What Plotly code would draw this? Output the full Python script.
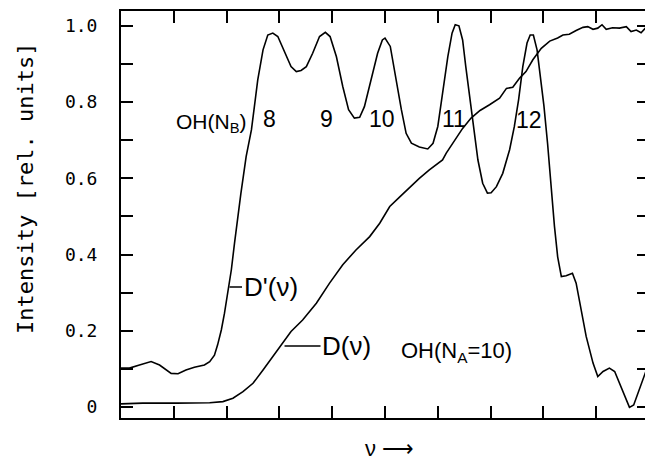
import plotly.graph_objects as go

# D'(nu) - derivative spectrum with rotational peaks
dp_x = [0.00, 0.16, 0.35, 0.57, 0.73, 0.95, 1.08, 1.23, 1.39, 1.58,
        1.68, 1.77, 1.83, 1.90, 1.96, 2.02, 2.09, 2.15, 2.18, 2.27,
        2.37, 2.47, 2.59, 2.69, 2.78, 2.875, 2.97, 3.10, 3.22, 3.32,
        3.41, 3.51, 3.63, 3.76, 3.87, 3.96, 4.08, 4.20, 4.31, 4.42,
        4.52, 4.61, 4.74, 4.86, 4.95, 5.00, 5.10, 5.21, 5.31, 5.40,
        5.50, 5.65, 5.81, 5.91, 6.00, 6.09, 6.19, 6.27, 6.33, 6.40,
        6.47, 6.53, 6.60, 6.68, 6.76, 6.85, 6.94, 7.01, 7.11, 7.23,
        7.36, 7.45, 7.53, 7.61, 7.69, 7.75, 7.81, 7.88, 7.94, 8.01,
        8.08, 8.14, 8.21, 8.27, 8.34, 8.43, 8.55, 8.62, 8.72, 8.81,
        8.94, 9.03, 9.13, 9.25, 9.35, 9.44, 9.54, 9.63, 9.71, 9.79,
        9.88, 9.95, 10.0]
dp_y = [0.102, 0.102, 0.110, 0.119, 0.110, 0.088, 0.087, 0.097, 0.104, 0.110,
        0.119, 0.136, 0.163, 0.202, 0.246, 0.298, 0.360, 0.430, 0.465, 0.560,
        0.657, 0.727, 0.858, 0.937, 0.976, 0.981, 0.972, 0.933, 0.893, 0.880,
        0.883, 0.893, 0.928, 0.972, 0.983, 0.972, 0.919, 0.841, 0.780, 0.758,
        0.760, 0.788, 0.858, 0.928, 0.963, 0.968, 0.946, 0.858, 0.780, 0.718,
        0.692, 0.682, 0.677, 0.692, 0.736, 0.823, 0.919, 0.981, 1.003, 1.000,
        0.963, 0.893, 0.815, 0.736, 0.648, 0.587, 0.561, 0.562, 0.578, 0.613,
        0.675, 0.736, 0.806, 0.893, 0.955, 0.976, 0.976, 0.937, 0.867, 0.790,
        0.690, 0.578, 0.473, 0.394, 0.342, 0.344, 0.351, 0.325, 0.255, 0.185,
        0.115, 0.080, 0.093, 0.102, 0.093, 0.062, 0.027, -0.001, 0.005, 0.036,
        0.071, 0.097, 0.100]

# D(nu) - integrated signal
d_x = [0.00, 0.41, 1.05, 1.68, 1.93, 2.12, 2.31, 2.50, 2.69, 2.875,
       3.03, 3.22, 3.44, 3.70, 3.95, 4.20, 4.45, 4.71, 4.90, 5.09,
       5.27, 5.46, 5.65, 5.84, 5.97, 6.09, 6.16, 6.32, 6.47, 6.63,
       6.80, 6.98, 7.17, 7.30, 7.42, 7.55, 7.67, 7.80, 7.96, 8.12,
       8.27, 8.37, 8.49, 8.62, 8.75, 8.84, 8.94, 9.03, 9.11, 9.19,
       9.31, 9.44, 9.57, 9.66, 9.76, 9.85, 9.93, 10.0]
d_y = [0.008, 0.010, 0.010, 0.011, 0.014, 0.023, 0.040, 0.062, 0.097, 0.132,
       0.163, 0.198, 0.228, 0.272, 0.325, 0.373, 0.412, 0.447, 0.482, 0.526,
       0.550, 0.575, 0.600, 0.622, 0.635, 0.648, 0.666, 0.700, 0.731, 0.758,
       0.778, 0.793, 0.810, 0.836, 0.839, 0.863, 0.880, 0.911, 0.941, 0.960,
       0.968, 0.976, 0.978, 0.988, 0.996, 0.998, 0.991, 0.994, 1.003, 0.991,
       0.995, 0.994, 0.998, 0.985, 0.989, 0.982, 0.994, 0.998]

y_tick_vals = [0.0, 0.1, 0.2, 0.3, 0.4, 0.5, 0.6, 0.7, 0.8, 0.9, 1.0]
y_tick_text = ["0", " ", "0.2", " ", "0.4", " ", "0.6", " ", "0.8", " ", "1.0"]
x_tick_vals = [0, 1, 2, 3, 4, 5, 6, 7, 8, 9, 10]

peak_labels = ["8", "9", "10", "11", "12"]
peak_label_x = [2.81, 3.89, 4.95, 6.30, 7.72]
peak_label_y = [0.756, 0.756, 0.756, 0.756, 0.753]

LBL_FONT = "Liberation Sans, Arial, sans-serif"
MONO = "DejaVu Sans Mono, monospace"

fig = go.Figure()
fig.add_trace(go.Scatter(x=dp_x, y=dp_y, mode="lines",
                         line=dict(color="black", width=1.6), showlegend=False))
fig.add_trace(go.Scatter(x=d_x, y=d_y, mode="lines",
                         line=dict(color="black", width=1.6), showlegend=False))

annotations = []
for t, x, y in zip(peak_labels, peak_label_x, peak_label_y):
    annotations.append(dict(x=x, y=y, xref="x", yref="y", text=t, showarrow=False,
                            xanchor="center", yanchor="middle",
                            font=dict(family=LBL_FONT, size=23, color="black")))
annotations.append(dict(x=1.01, y=0.745, xref="x", yref="y", xanchor="left",
                        yanchor="middle", text="OH(N<sub>B</sub>)", showarrow=False,
                        font=dict(family=LBL_FONT, size=21, color="black")))
annotations.append(dict(x=6.36, y=0.145, xref="x", yref="y",
                        xanchor="center", yanchor="middle",
                        text="OH(N<sub>A</sub>=10)", showarrow=False,
                        font=dict(family=LBL_FONT, size=22, color="black")))
annotations.append(dict(x=2.055, y=0.315, xref="x", yref="y", text="D'(ν)",
                        showarrow=True, arrowhead=0, arrowwidth=1.5, arrowcolor="black",
                        ax=41, ay=0, standoff=0,
                        font=dict(family=LBL_FONT, size=26, color="black")))
annotations.append(dict(x=3.097, y=0.160, xref="x", yref="y", text="D(ν)",
                        showarrow=True, arrowhead=0, arrowwidth=1.5, arrowcolor="black",
                        ax=62, ay=0, standoff=0,
                        font=dict(family=LBL_FONT, size=26, color="black")))
annotations.append(dict(x=-0.182, y=0.565, xref="paper", yref="paper",
                        xanchor="center", yanchor="middle",
                        text="Intensity [rel. units]", textangle=-90, showarrow=False,
                        font=dict(family=MONO, size=22, color="black")))
annotations.append(dict(x=0.509, y=-0.076, xref="paper", yref="paper",
                        xanchor="center", yanchor="middle",
                        text="ν ⟶", showarrow=False,
                        font=dict(family=LBL_FONT, size=22, color="black")))

# the page body adds an 8px offset; size the figure to fit the 653x461 window
fig.update_layout(
    width=645, height=453,
    margin=dict(l=113, r=4, t=3, b=43, autoexpand=False),
    paper_bgcolor="white", plot_bgcolor="white",
    annotations=annotations,
    showlegend=False,
)
fig.update_xaxes(range=[0, 10], tickvals=x_tick_vals, showticklabels=False,
                 ticks="inside", ticklen=12, tickwidth=1.5, tickcolor="black",
                 showline=True, linecolor="black", linewidth=2, mirror="ticks",
                 showgrid=False, zeroline=False, automargin=False)
fig.update_yaxes(range=[-0.029, 1.039], tickvals=y_tick_vals, ticktext=y_tick_text,
                 ticks="inside", ticklen=12, tickwidth=1.5, tickcolor="black",
                 showline=True, linecolor="black", linewidth=2, mirror="ticks",
                 showgrid=False, zeroline=False, ticklabelstandoff=18, automargin=False,
                 tickfont=dict(family=MONO, size=18, color="black"))

fig.write_html("out.html")
